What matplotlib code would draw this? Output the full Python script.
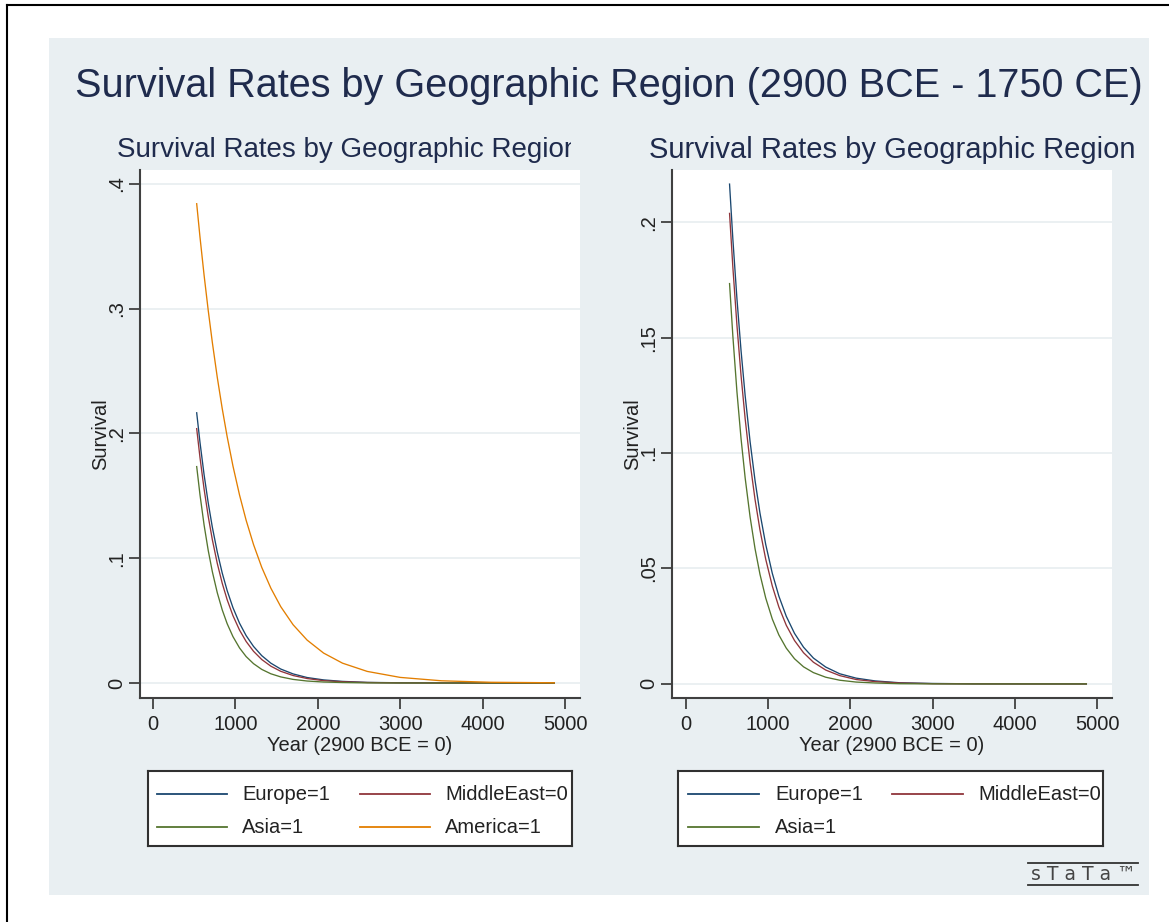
import matplotlib
matplotlib.use("Agg")
import matplotlib.pyplot as plt
from matplotlib.lines import Line2D
from matplotlib.patches import Rectangle
from matplotlib.transforms import Bbox, TransformedBbox

# ---------------- data ----------------
years = [530, 570, 620, 670, 720, 780, 840, 900, 970, 1050, 1130, 1220,
         1320, 1430, 1550, 1700, 1870, 2070, 2300, 2600, 3000, 3500, 4100, 4870]
europe = [0.2165, 0.1928, 0.1668, 0.1443, 0.1248, 0.1049, 0.0881, 0.0740,
          0.0604, 0.0479, 0.0380, 0.0293, 0.0219, 0.0159, 0.0112, 0.0073,
          0.0044, 0.0025, 0.0013, 0.0005, 0.0002, 0.00004, 0.00001, 0.0]
middleeast = [0.2038, 0.1806, 0.1553, 0.1335, 0.1148, 0.0958, 0.0799, 0.0667,
              0.0540, 0.0424, 0.0333, 0.0254, 0.0188, 0.0135, 0.0094, 0.0060,
              0.0036, 0.0019, 0.0010, 0.0004, 0.0001, 0.00003, 0.0, 0.0]
asia = [0.1734, 0.1508, 0.1265, 0.1062, 0.0892, 0.0723, 0.0586, 0.0475,
        0.0372, 0.0281, 0.0212, 0.0155, 0.0109, 0.0074, 0.0049, 0.0029,
        0.0016, 0.0008, 0.0004, 0.0001, 0.00003, 0.0, 0.0, 0.0]
america = [0.3840, 0.3573, 0.3266, 0.2985, 0.2728, 0.2448, 0.2198, 0.1973,
           0.1739, 0.1506, 0.1304, 0.1109, 0.0926, 0.0760, 0.0612, 0.0467,
           0.0344, 0.0240, 0.0159, 0.0093, 0.0045, 0.0018, 0.0006, 0.0002]

series_labels = ["Europe=1", "MiddleEast=0", "Asia=1", "America=1"]
series_colors = ["#1a476f", "#90353b", "#55752f", "#e37e00"]

xticks = [0, 1000, 2000, 3000, 4000, 5000]
left_yticks = [0, 0.1, 0.2, 0.3, 0.4]
left_yticklabels = ["0", ".1", ".2", ".3", ".4"]
right_yticks = [0, 0.05, 0.1, 0.15, 0.2]
right_yticklabels = ["0", ".05", ".1", ".15", ".2"]

main_title = "Survival Rates by Geographic Region (2900 BCE - 1750 CE)"
sub_title = "Survival Rates by Geographic Region"
xlabel = "Year (2900 BCE = 0)"
ylabel = "Survival"

# ---------------- style ----------------
plt.rcParams['font.family'] = ['Liberation Sans', 'DejaVu Sans']
W, H = 1169, 922
fig = plt.figure(figsize=(W / 100, H / 100), dpi=100)
fig.patch.set_facecolor("white")

TITLE_C = "#1f2b4d"
TEXT_C = "#222222"
AX_C = "#404040"
GRID_C = "#e8edf0"
REGION_C = "#e9eff2"

def fx(px):
    return px / W

def fy(py):
    return 1 - py / H

# outer frame lines (left and top)
fig.add_artist(Line2D([fx(7), fx(7)], [fy(5), 0], color="black", lw=1.5,
                      transform=fig.transFigure))
fig.add_artist(Line2D([fx(7), 1], [fy(5), fy(5)], color="black", lw=1.5,
                      transform=fig.transFigure))

# graph region
fig.add_artist(Rectangle((fx(49), fy(895)), fx(1149) - fx(49), fy(38) - fy(895),
                         transform=fig.transFigure, facecolor=REGION_C,
                         edgecolor="none", zorder=0))

fig.text(fx(609), fy(86), main_title, ha="center", va="center",
         fontsize=28.5, color=TITLE_C)


def make_panel(left_px, right_px, xlim, ylim, yticks, yticklabels, series_idx,
               clip_right=None):
    top_px, bottom_px = 170, 698
    ax = fig.add_axes([fx(left_px), fy(bottom_px), fx(right_px) - fx(left_px),
                       fy(top_px) - fy(bottom_px)])
    ax.set_facecolor("white")
    all_series = [europe, middleeast, asia, america]
    for i in series_idx:
        ax.plot(years, all_series[i], color=series_colors[i], lw=0.95, zorder=3)
    ax.set_xlim(*xlim)
    ax.set_ylim(*ylim)
    ax.set_xticks(xticks)
    ax.set_xticklabels([str(t) for t in xticks])
    ax.set_yticks(yticks)
    ax.set_yticklabels(yticklabels, rotation=90, va="center")
    for s in ["top", "right"]:
        ax.spines[s].set_visible(False)
    for s in ["left", "bottom"]:
        ax.spines[s].set_color(AX_C)
        ax.spines[s].set_linewidth(1.5)
    ax.tick_params(axis="both", direction="out", length=8, width=1.3,
                   color=AX_C, labelsize=14.5, labelcolor=TEXT_C)
    ax.tick_params(axis="y", pad=2)
    ax.tick_params(axis="x", pad=4)
    ax.grid(axis="y", color=GRID_C, lw=1.2)
    ax.set_axisbelow(True)
    ax.set_xlabel(xlabel, fontsize=14.5, color=TEXT_C, labelpad=1.5)
    ax.set_ylabel(ylabel, fontsize=14.5, color=TEXT_C)
    ax.yaxis.set_label_coords(-0.068, 0.5)

    # subtitle
    if clip_right is not None:
        t = fig.text(fx(117), fy(150), sub_title, ha="left", va="center",
                     fontsize=20, color=TITLE_C)
        bb = TransformedBbox(Bbox([[0, 0], [fx(clip_right), 1]]), fig.transFigure)
        t.set_clip_box(bb)
        t.set_clip_on(True)
    else:
        cx = (left_px + right_px) / 2
        fig.text(fx(cx), fy(150), sub_title, ha="center", va="center",
                 fontsize=21, color=TITLE_C)
    return ax


make_panel(140, 580, (-158, 5182), (-0.012, 0.411), left_yticks,
           left_yticklabels, [0, 1, 2, 3], clip_right=571)
make_panel(672, 1112, (-170, 5182), (-0.0061, 0.2226), right_yticks,
           right_yticklabels, [0, 1, 2])


def make_legend(x0, x1, y0, y1, entries, line_x, text_x, row_y):
    lax = fig.add_axes([fx(x0), fy(y1), fx(x1) - fx(x0), fy(y0) - fy(y1)])
    lax.set_xlim(x0, x1)
    lax.set_ylim(y1, y0)
    lax.set_facecolor("white")
    lax.set_xticks([])
    lax.set_yticks([])
    for s in lax.spines.values():
        s.set_color("#303030")
        s.set_linewidth(1.5)
    for k, i in enumerate(entries):
        col, row = k % 2, k // 2
        lx0, lx1 = line_x[col]
        yy = row_y[row]
        lax.plot([lx0, lx1], [yy, yy], color=series_colors[i], lw=1.3)
        lax.text(text_x[col], yy, series_labels[i], ha="left", va="center",
                 fontsize=14.5, color=TEXT_C, clip_on=True)


make_legend(148, 572, 771, 846, [0, 1, 2, 3],
            [(157, 227), (360, 430)], [242, 445], [794, 827])
make_legend(678, 1103, 771, 846, [0, 1, 2],
            [(688, 759), (892, 963)], [775, 978], [794, 827])

# Stata logo
fig.add_artist(Line2D([fx(1028), fx(1138)], [fy(863), fy(863)], color="#333333",
                      lw=1.3, transform=fig.transFigure))
fig.add_artist(Line2D([fx(1028), fx(1138)], [fy(885), fy(885)], color="#333333",
                      lw=1.3, transform=fig.transFigure))
fig.text(fx(1083), fy(874.5), "s T a T a ™", ha="center", va="center",
         fontsize=13.5, color="#444444", family=["DejaVu Sans"])

fig.savefig("out.png", dpi=100, facecolor="white")
